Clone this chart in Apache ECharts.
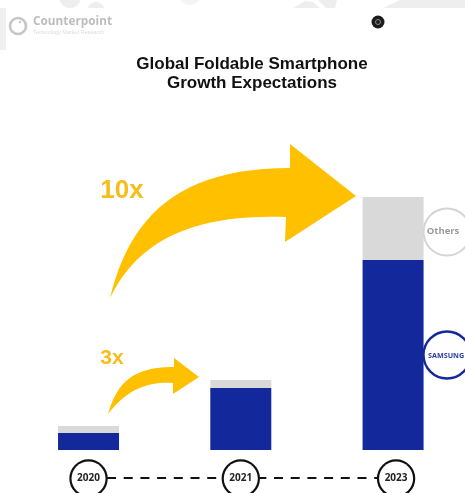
<!DOCTYPE html>
<html>
<head>
<meta charset="utf-8">
<style>html,body{margin:0;padding:0;background:#fff}#chart{width:465px;height:493px}</style>
<script src="https://cdn.jsdelivr.net/npm/echarts@6/dist/echarts.min.js"></script>
</head>
<body>
<div id="chart"></div>
<script>
// Foldable shipments by vendor group, in relative units
const years = ['2020', '2021', '2023'];
const samsung = [17, 62, 190];
const others = [7, 8, 63];
const BLUE = '#13299b', GREY = '#d9d9d9', GOLD = '#ffc000';
const font = '"Liberation Sans", Arial, sans-serif';
const badgeFont = '"Open Sans", sans-serif';

const chart = echarts.init(document.getElementById('chart'), null, { renderer: 'canvas' });

// Samples a cubic curve from p0 to p3 into polygon points (start point excluded)
function curve(p0, c1, c2, p3) {
  const pts = [];
  for (let i = 1; i <= 24; i++) {
    const t = i / 24, u = 1 - t;
    pts.push([
      u * u * u * p0[0] + 3 * u * u * t * c1[0] + 3 * u * t * t * c2[0] + t * t * t * p3[0],
      u * u * u * p0[1] + 3 * u * u * t * c1[1] + 3 * u * t * t * c2[1] + t * t * t * p3[1]
    ]);
  }
  return pts;
}

// Curved arrow outline: tail, upper edge, head, lower edge back to the tail
const bigArrow = [[110, 298]]
  .concat(curve([110, 298], [130, 215], [180, 168], [290, 168]))
  .concat([[290, 144], [356, 196], [285, 242], [286, 217]])
  .concat(curve([286, 217], [220, 215], [145, 225], [110, 298]));
const smallArrow = [[108, 414]]
  .concat(curve([108, 414], [118, 378], [138, 367], [174, 367]))
  .concat([[174, 358], [199, 377], [173, 394], [173, 383]])
  .concat(curve([173, 383], [145, 381], [125, 392], [108, 414]));

// Text element in the drawing layer
function label(text, x, y, size, family, weight, fill, align, z) {
  return {
    type: 'text', x, y, z: z || 2,
    style: { text, fontSize: size, fontFamily: family, fontWeight: weight, fill, align: align || 'center', verticalAlign: 'middle' }
  };
}

const wash = '#eeeeee';
const graphics = [
  // faint page backdrop along the top and left edges
  { type: 'circle', silent: true, z: 0, shape: { cx: 70, cy: -3, r: 11 }, style: { fill: wash } },
  { type: 'circle', silent: true, z: 0, shape: { cx: 96, cy: 11, r: 9 }, style: { fill: wash } },
  { type: 'circle', silent: true, z: 0, shape: { cx: 190, cy: -6, r: 11 }, style: { fill: '#f4f4f4' } },
  { type: 'polygon', silent: true, z: 0, shape: { points: [[293, 8], [305, 1], [313, 2], [320, 8]] }, style: { fill: wash } },
  { type: 'polygon', silent: true, z: 0, shape: { points: [[318, 0], [337, 0], [335, 8], [326, 8]] }, style: { fill: wash } },
  { type: 'polygon', silent: true, z: 0, shape: { points: [[383, 8], [400, 0], [465, 0], [465, 8]] }, style: { fill: wash } },
  { type: 'rect', silent: true, z: 0, shape: { x: 0, y: 8, width: 6, height: 42 }, style: { fill: '#f0f0f0' } },
  { type: 'rect', silent: true, z: 0, shape: { x: 6, y: 8, width: 459, height: 30 }, style: { fill: '#fff' } },

  // Counterpoint logotype
  { type: 'circle', shape: { cx: 18, cy: 26, r: 8 }, style: { fill: 'none', stroke: '#c6c6c6', lineWidth: 2.6 } },
  { type: 'circle', shape: { cx: 20, cy: 22, r: 1.2 }, style: { fill: '#c6c6c6' } },
  label('Counterpoint', 33, 22, 11.8, badgeFont, 'bold', '#bdbdbd', 'left'),
  label('Technology Market Research', 33, 32, 5.5, font, 'normal', '#dcdcdc', 'left'),

  // small round mark at the top right
  { type: 'circle', shape: { cx: 378, cy: 22, r: 6.5 }, style: { fill: '#1c1c1c' } },
  { type: 'circle', shape: { cx: 378, cy: 22, r: 2.5 }, style: { fill: 'none', stroke: '#8a8a8a', lineWidth: 1 } },

  // growth arrows
  { type: 'polygon', z: 3, shape: { points: bigArrow }, style: { fill: GOLD } },
  { type: 'polygon', z: 3, shape: { points: smallArrow }, style: { fill: GOLD } },
  label('10x', 122, 191, 26, font, 'bold', '#f7bd1d'),
  label('3x', 112, 358, 21, font, 'bold', '#f7bd1d'),

  // vendor badges beside the last bar
  { type: 'circle', z: 1, shape: { cx: 447, cy: 232, r: 23.5 }, style: { fill: '#fff', stroke: '#d4d4d4', lineWidth: 2 } },
  label('Others', 443, 231, 9.5, badgeFont, 'bold', '#9a9a9a', 'center', 6),
  { type: 'circle', z: 1, shape: { cx: 447, cy: 355, r: 23.5 }, style: { fill: '#fff', stroke: BLUE, lineWidth: 2.4 } },
  label('SAMSUNG', 428, 356, 7.2, badgeFont, 'bold', '#2a3f9f', 'left', 6),

  // timeline joining the year markers
  { type: 'line', z: 1, shape: { x1: 107, y1: 478, x2: 378, y2: 478 }, style: { stroke: '#111', lineWidth: 2.2, lineDash: [9, 7.7] } }
];

chart.setOption({
  animation: false,
  backgroundColor: '#fff',
  title: {
    text: 'Global Foldable Smartphone\nGrowth Expectations',
    left: 247, top: 50, textAlign: 'center',
    textStyle: { fontFamily: font, fontWeight: 'bold', fontSize: 17, lineHeight: 19, color: '#111' }
  },
  grid: { left: 12.4, right: -4.2, top: 197, height: 253, outerBoundsMode: 'none' },
  xAxis: {
    type: 'category',
    data: years,
    axisLine: { show: false },
    axisTick: { show: false },
    z: 5,
    axisLabel: {
      interval: 0,
      margin: 10,
      formatter: (v) => (v === '2023' ? '{gap|}{year|' + v + '}' : '{year|' + v + '}'),
      rich: {
        gap: { width: 6, height: 34 },
        year: {
          width: 34, height: 34, lineHeight: 37, align: 'center',
          fontFamily: badgeFont, fontWeight: 'bold', fontSize: 10, color: '#222',
          backgroundColor: '#fff', borderColor: '#111', borderWidth: 2.2, borderRadius: 18
        }
      }
    }
  },
  yAxis: { type: 'value', min: 0, max: 253, show: false },
  series: [
    { name: 'Samsung', type: 'bar', stack: 'total', data: samsung, barWidth: 61, itemStyle: { color: BLUE }, z: 2 },
    { name: 'Others', type: 'bar', stack: 'total', data: others, barWidth: 61, itemStyle: { color: GREY }, z: 2 }
  ],
  graphic: graphics
});
</script>
</body>
</html>
